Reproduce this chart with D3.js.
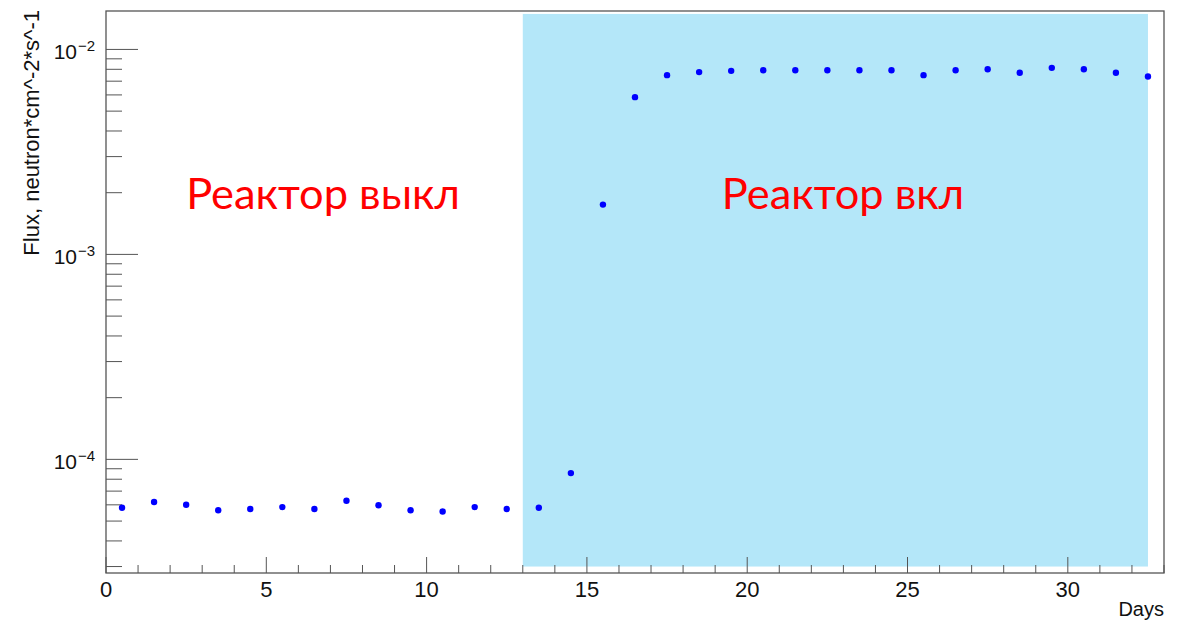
<!DOCTYPE html>
<html>
<head>
<meta charset="utf-8">
<script src="https://cdn.jsdelivr.net/npm/d3@7"></script>
<style>
  html, body { margin: 0; padding: 0; background: #fff; }
  svg { display: block; }
</style>
</head>
<body>
<svg id="chart" width="1179" height="622"></svg>
<script>
// Daily neutron flux measurements (bin centres in days)
const days = [0.5, 1.5, 2.5, 3.5, 4.5, 5.5, 6.5, 7.5, 8.5, 9.5, 10.5, 11.5, 12.5, 13.5,
              14.5, 15.5, 16.5, 17.5, 18.5, 19.5, 20.5, 21.5, 22.5, 23.5, 24.5, 25.5,
              26.5, 27.5, 28.5, 29.5, 30.5, 31.5, 32.5];
const flux = [5.81e-5, 6.19e-5, 6.01e-5, 5.65e-5, 5.73e-5, 5.85e-5, 5.73e-5, 6.28e-5,
              5.97e-5, 5.65e-5, 5.57e-5, 5.85e-5, 5.73e-5, 5.81e-5,
              8.57e-5, 1.75e-3, 5.85e-3, 7.49e-3, 7.75e-3, 7.86e-3, 7.92e-3, 7.92e-3,
              7.92e-3, 7.92e-3, 7.92e-3, 7.49e-3, 7.92e-3, 8.01e-3, 7.69e-3, 8.13e-3,
              8.01e-3, 7.69e-3, 7.38e-3];

// Axis ranges and ticks
const xDomain = [0, 33];
const yDomain = [2.79e-5, 0.0154];
const xMajorTicks = [0, 5, 10, 15, 20, 25, 30];
const yDecadeExponents = [-4, -3, -2];

// Reactor-on period, shaded
const reactorOnDays = [13, 32.5];
const reactorOnFlux = [3.0e-5, 0.0149];

// Annotations
const regionLabels = [
  { text: "Реактор выкл", centerX: 323 },
  { text: "Реактор вкл", centerX: 843 }
];

const svg = d3.select("#chart");
const plotL = 106, plotR = 1164, plotT = 11, plotB = 573;

const x = d3.scaleLinear().domain(xDomain).range([plotL, plotR]);
const y = d3.scaleLog().domain(yDomain).range([plotB, plotT]);

const font = "'Liberation Sans', Arial, Helvetica, sans-serif";
const axisColor = "#555";

// Shaded band
svg.append("rect")
  .attr("x", x(reactorOnDays[0]))
  .attr("y", y(reactorOnFlux[1]))
  .attr("width", x(reactorOnDays[1]) - x(reactorOnDays[0]))
  .attr("height", y(reactorOnFlux[0]) - y(reactorOnFlux[1]))
  .attr("fill", "#b4e7f9");

// Frame
svg.append("rect")
  .attr("x", plotL).attr("y", plotT)
  .attr("width", plotR - plotL).attr("height", plotB - plotT)
  .attr("fill", "none").attr("stroke", axisColor).attr("stroke-width", 1.3);

// X ticks: minor every day, major every 5 days
const xMinor = d3.range(xDomain[0], xDomain[1] + 0.001, 1);
svg.append("g").selectAll("line").data(xMinor).join("line")
  .attr("x1", d => x(d)).attr("x2", d => x(d))
  .attr("y1", plotB).attr("y2", d => plotB - (d % 5 === 0 ? 16 : 8))
  .attr("stroke", axisColor).attr("stroke-width", 1);

svg.append("g").selectAll("text").data(xMajorTicks).join("text")
  .attr("x", d => x(d)).attr("y", 597)
  .attr("text-anchor", "middle")
  .attr("font-family", font).attr("font-size", 22).attr("fill", "#111")
  .text(d => d);

svg.append("text")
  .attr("x", plotR).attr("y", 616)
  .attr("text-anchor", "end")
  .attr("font-family", font).attr("font-size", 20).attr("fill", "#111")
  .text("Days");

// Y ticks: decades plus 2..9 minor ticks
const yTicks = [];
for (let e = -5; e <= -1; e++) {
  for (let m = 1; m <= 9; m++) {
    const v = m * Math.pow(10, e);
    if (v >= yDomain[0] && v <= yDomain[1]) yTicks.push({ v, major: m === 1 });
  }
}
svg.append("g").selectAll("line").data(yTicks).join("line")
  .attr("x1", plotL).attr("x2", d => plotL + (d.major ? 32 : 16))
  .attr("y1", d => y(d.v)).attr("y2", d => y(d.v))
  .attr("stroke", axisColor).attr("stroke-width", 1);

const yLab = svg.append("g").selectAll("g").data(yDecadeExponents).join("g")
  .attr("transform", e => `translate(0,${y(Math.pow(10, e))})`);
yLab.append("text")
  .attr("x", 77).attr("y", 10)
  .attr("text-anchor", "end")
  .attr("font-family", font).attr("font-size", 21).attr("fill", "#111")
  .text("10");
yLab.append("text")
  .attr("x", 78).attr("y", 2)
  .attr("font-family", font).attr("font-size", 15).attr("fill", "#111")
  .text(e => "\u2212" + Math.abs(e));

svg.append("text")
  .attr("transform", "translate(39,10) rotate(-90)")
  .attr("text-anchor", "end")
  .attr("font-family", font).attr("font-size", 22).attr("fill", "#111")
  .text("Flux, neutron*cm^-2*s^-1");

// Data markers
svg.append("g").selectAll("circle").data(days.map((d, i) => [d, flux[i]])).join("circle")
  .attr("cx", d => x(d[0])).attr("cy", d => y(d[1]))
  .attr("r", 3.2).attr("fill", "#0000ff");

// Region annotations
svg.append("g").selectAll("text").data(regionLabels).join("text")
  .attr("x", d => d.centerX).attr("y", 209)
  .attr("text-anchor", "middle")
  .attr("font-family", "Lato, 'Open Sans', sans-serif")
  .attr("font-size", 43.4).attr("fill", "#ff0000")
  .text(d => d.text);
</script>
</body>
</html>
